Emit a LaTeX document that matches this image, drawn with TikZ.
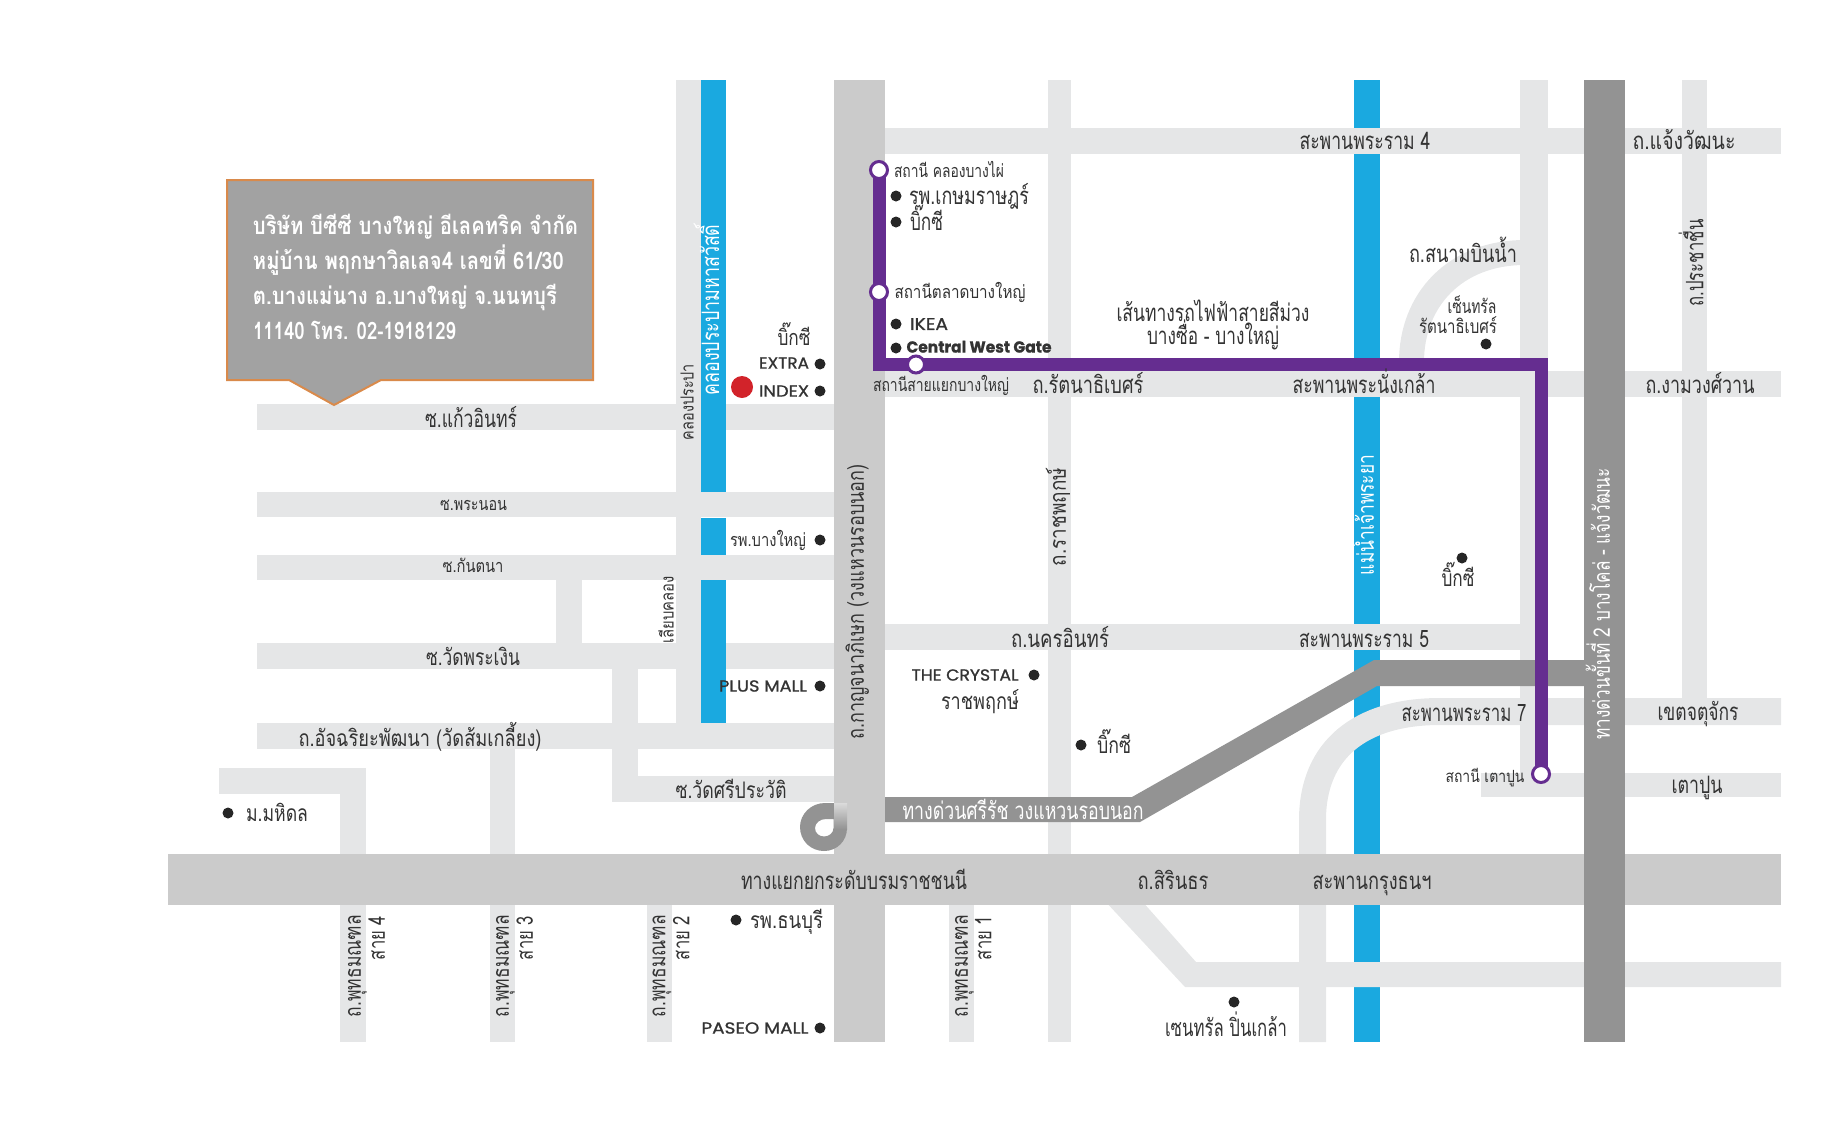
\documentclass[tikz,border=0pt]{standalone}
\usepackage{fontspec}
\usepackage{graphicx}
\setmainfont{Liberation Sans}
\newfontfamily\thai[Script=Thai]{Loma}
\newfontfamily\lat[FakeBold=1]{Poppins}
\newfontfamily\latb{Poppins SemiBold}
\definecolor{roadc}{HTML}{E5E6E7}
\definecolor{mainc}{HTML}{CBCBCB}
\definecolor{expc}{HTML}{939393}
\definecolor{riverc}{HTML}{1AA9E0}
\definecolor{purp}{HTML}{652D90}
\definecolor{txtc}{HTML}{333333}
\definecolor{boxc}{HTML}{A2A2A2}
\definecolor{boxe}{HTML}{D98A4B}
\definecolor{reddot}{HTML}{D2232A}
\newcounter{tn}
% \T[options]{x}{y}{size}{width}{text}: #3 is the centre of the consonants
\newcommand{\T}[6][]{\stepcounter{tn}\pgfmathsetmacro{\fs}{1.2*#4}\node[lab,#1] (t\thetn) at (#2,{#3+0.36*\fs}) {\resizebox{#5pt}{\height}{\fontsize{\fs pt}{\fs pt}\selectfont\thai #6}};}
\newcommand{\R}[6][]{\stepcounter{tn}\pgfmathsetmacro{\fs}{1.2*#4}\node[lab,rotate=90,#1] (t\thetn) at ({#2+0.26*\fs},#3) {\resizebox{#5pt}{\height}{\fontsize{\fs pt}{\fs pt}\selectfont\thai #6}};}
\newcommand{\Tl}[6][\lat]{\stepcounter{tn}\node[lab] (t\thetn) at (#2,{#3+0.35*#4}) {\resizebox{#5pt}{\height}{\fontsize{#4}{#4}\selectfont #1{}#6}};}
\newcommand{\D}[2]{\fill[black!85] (#1,#2) circle (5.5pt);}
\begin{document}
\begin{tikzpicture}[x=1pt,y=-1pt,
  lab/.style={inner sep=0pt,outer sep=0pt,text=txtc,anchor=base},
  rd/.style={fill=roadc},
  station/.style={circle,draw=purp,fill=white,line width=3pt,minimum size=17pt,inner sep=0pt},
  ]
\useasboundingbox (0,0) rectangle (1822,1125);
% rivers
\fill[riverc] (1354,80) rectangle (1380,1042);
% roads, horizontal
\fill[rd] (257,404) rectangle (701,430);
\fill[rd] (726,404) rectangle (838,430);
\fill[rd] (257,492) rectangle (838,517);
\fill[rd] (257,555) rectangle (838,580);
\fill[rd] (257,643) rectangle (838,669);
\fill[rd] (257,723) rectangle (838,749);
\fill[rd] (612,776) rectangle (838,802);
\fill[rd] (885,128) rectangle (1781,154);
\fill[rd] (885,371) rectangle (1781,397);
\fill[rd] (885,624) rectangle (1520,650);
\fill[rd] (1481,773) rectangle (1781,797);
% roads, vertical
\fill[rd] (676,80) rectangle (701,723);
\fill[rd] (556,580) rectangle (582,643);
\fill[rd] (612,669) rectangle (638,802);
\fill[rd] (219,768) rectangle (365.5,794);
\fill[rd] (340,768) rectangle (365.5,860);
\fill[rd] (340,905) rectangle (365.5,1042);
\fill[rd] (490,749) rectangle (515,1042);
\fill[rd] (647,905) rectangle (672,1042);
\fill[rd] (949,905) rectangle (974,1042);
\fill[rd] (1048,80) rectangle (1071,1042);
\fill[rd] (1520,80) rectangle (1548,773);
\fill[rd] (1682,80) rectangle (1707,700);
% canal
\fill[riverc] (701,80) rectangle (726,492);
\fill[riverc] (701,518) rectangle (726,555);
\fill[riverc] (701,580) rectangle (726,723);
% curved roads
\draw[roadc,line width=25pt] (1411.5,362) .. controls (1411.5,300) and (1455,252.5) .. (1525,252.5);
\draw[roadc,line width=27pt] (1312.5,1042) -- (1312.5,820) .. controls (1312.5,750) and (1360,711.5) .. (1440,711.5) -- (1781,711.5);
\fill[rd] (1104,900) -- (1141,900) -- (1196,962) -- (1781,962) -- (1781,987) -- (1185,987) -- cycle;
% main roads
\fill[mainc] (834,80) rectangle (885,1042);
\fill[mainc] (168,854) rectangle (1781,905);
% interchange loop
\fill[expc,even odd rule]
 (834,803) -- (825,803) .. controls (811,803) and (800,814) .. (800,827) .. controls (800,841) and (811,851) .. (824,851) .. controls (837,851) and (847,841) .. (847,828) -- (834,828) -- cycle
 (833.5,819) -- (826,819) .. controls (820,819) and (815,823) .. (815,828) .. controls (815,833) and (819,836.5) .. (824,836.5) .. controls (829,836.5) and (833.5,833) .. (833.5,828) -- cycle;
\shade[top color=mainc!70!white,bottom color=expc] (834,803) rectangle (847,829);
% expressways
\fill[expc] (885,797) -- (1132,797) -- (1374,660) -- (1584,660) -- (1584,686) -- (1377,686) -- (1140,822) -- (885,822) -- cycle;
\fill[expc] (1584,80) rectangle (1625,1042);
% purple line
\coordinate (p1) at (879,170);
\coordinate (p2) at (879,364.5);
\coordinate (p3) at (1541,364.5);
\coordinate (p4) at (1541,774);
\draw[purp,line width=13pt,line join=miter] (p1) -- (p2) -- (p3) -- (p4);
\node[station] (s1) at (p1) {};
\node[station] (s2) at (879,292) {};
\node[station] (s3) at (916,364.5) {};
\node[station] (s4) at (p4) {};
% callout
\draw[boxe,fill=boxc,line width=2pt] (227,180) -- (593,180) -- (593,380) -- (381,380) -- (334,405) -- (289,380) -- (227,380) -- cycle;
\T[text=white,font=\bfseries]{415.5}{226}{20}{325}{บริษัท บีซีซี บางใหญ่ อีเลคทริค จำกัด}
\T[text=white,font=\bfseries]{408.5}{261}{20}{311}{หมู่บ้าน พฤกษาวิลเลจ4 เลขที่ 61/30}
\T[text=white,font=\bfseries]{405}{296}{20}{304}{ต.บางแม่นาง อ.บางใหญ่ จ.นนทบุรี}
\T[text=white,font=\bfseries]{354.5}{331}{20}{203}{11140 โทร. 02-1918129}
% dots
\D{820}{364}\D{820}{391}\D{820}{540}\D{820}{686}\D{820}{1028}
\D{896}{196}\D{896}{222}\D{896}{324}\D{896}{348}
\D{1486}{344}\D{1034}{675}\D{1081}{745}\D{1462}{558}\D{228}{813}\D{736}{920}\D{1234}{1002}
\fill[reddot] (742,387) circle (11pt);
% labels, west
\T{471}{419}{20}{92}{ซ.แก้วอินทร์}
\R{689}{402}{15}{76}{คลองประปา}
\R[text=white]{713}{310}{20}{171}{คลองประปามหาสวัสดิ์}
\T{794}{338}{18}{33}{บิ๊กซี}
\Tl{784}{363}{16}{50}{EXTRA}
\Tl{784}{391}{16}{50}{INDEX}
\T{473.5}{504}{15}{67}{ซ.พระนอน}
\T{473}{566}{15}{61}{ซ.กันตนา}
\T{473}{657}{19}{94}{ซ.วัดพระเงิน}
\T{420}{738}{19}{243}{ถ.อัจฉริยะพัฒนา (วัดส้มเกลี้ยง)}
\R{669}{610}{15}{67}{เลียบคลอง}
\T{768}{540}{15}{76}{รพ.บางใหญ่}
\Tl{763}{686}{16}{88}{PLUS MALL}
\T{731}{790}{19}{111}{ซ.วัดศรีประวัติ}
\T{277}{813}{19}{62}{ม.มหิดล}
\R{858}{602}{19}{275}{ถ.กาญจนาภิเษก (วงแหวนรอบนอก)}
\T{854}{881}{20}{226}{ทางแยกยกระดับบรมราชชนนี}
\T{786.5}{920}{19}{73}{รพ.ธนบุรี}
\Tl{755}{1028}{16}{107}{PASEO MALL}
\R{355}{966}{19}{102}{ถ.พุทธมณฑล}
\R{379}{938}{19}{44}{สาย 4}
\R{503}{966}{19}{102}{ถ.พุทธมณฑล}
\R{527}{938}{19}{44}{สาย 3}
\R{659.5}{966}{19}{102}{ถ.พุทธมณฑล}
\R{683.5}{938}{19}{44}{สาย 2}
\R{962}{966}{19}{102}{ถ.พุทธมณฑล}
\R{985.5}{938}{19}{44}{สาย 1}
% labels, purple line
\T{949}{171}{15}{110}{สถานี คลองบางไผ่}
\T{969}{196}{20}{120}{รพ.เกษมราษฎร์}
\T{926.5}{222}{20}{33}{บิ๊กซี}
\T{960}{292}{15}{131}{สถานีตลาดบางใหญ่}
\Tl{929}{324}{17}{38}{IKEA}
\Tl[\lat\bfseries]{979}{347}{16}{145}{Central West Gate}
\T{941}{385}{15}{136}{สถานีสายแยกบางใหญ่}
\T{1088}{385}{20}{111}{ถ.รัตนาธิเบศร์}
\T{1213}{313}{20}{193}{เส้นทางรถไฟฟ้าสายสีม่วง}
\T{1213}{336}{20}{132}{บางซื่อ - บางใหญ่}
\T{1364}{385}{20}{143}{สะพานพระนั่งเกล้า}
\T{1365}{141}{20}{131}{สะพานพระราม 4}
% labels, east
\T{1684}{141}{20}{103}{ถ.แจ้งวัฒนะ}
\T{1700}{385}{20}{109}{ถ.งามวงศ์วาน}
\R{1697}{263}{20}{87}{ถ.ประชาชื่น}
\T{1463}{254}{20}{108}{ถ.สนามบินน้ำ}
\T{1472}{307}{16}{49}{เซ็นทรัล}
\T{1458}{327}{16}{78}{รัตนาธิเบศร์}
\T{1060}{639}{20}{98}{ถ.นครอินทร์}
\T{1364}{639}{20}{130}{สะพานพระราม 5}
\Tl{965}{675}{16}{107}{THE CRYSTAL}
\T{980}{701}{19}{78}{ราชพฤกษ์}
\T{1114}{745}{19}{34}{บิ๊กซี}
\T[text=white]{1023}{811}{20}{241}{ทางด่วนศรีรัช วงแหวนรอบนอก}
\T{1464}{713}{20}{125}{สะพานพระราม 7}
\T{1698}{712}{20}{81}{เขตจตุจักร}
\T{1485}{776}{14}{79}{สถานี เตาปูน}
\T{1697}{785}{20}{51}{เตาปูน}
\R[text=white]{1604}{604}{19}{271}{ทางด่วนขั้นที่ 2 บางโคล่ - แจ้งวัฒนะ}
\R{1060}{517}{19}{98}{ถ.ราชพฤกษ์}
\R[text=white]{1368}{515}{19}{120}{แม่น้ำเจ้าพระยา}
\T{1173}{881}{20}{71}{ถ.สิรินธร}
\T{1372}{881}{20}{119}{สะพานกรุงธนฯ}
\T{1226}{1028}{20}{122}{เซนทรัล ปิ่นเกล้า}
\T{1458}{578}{19}{33}{บิ๊กซี}
\end{tikzpicture}
\end{document}
